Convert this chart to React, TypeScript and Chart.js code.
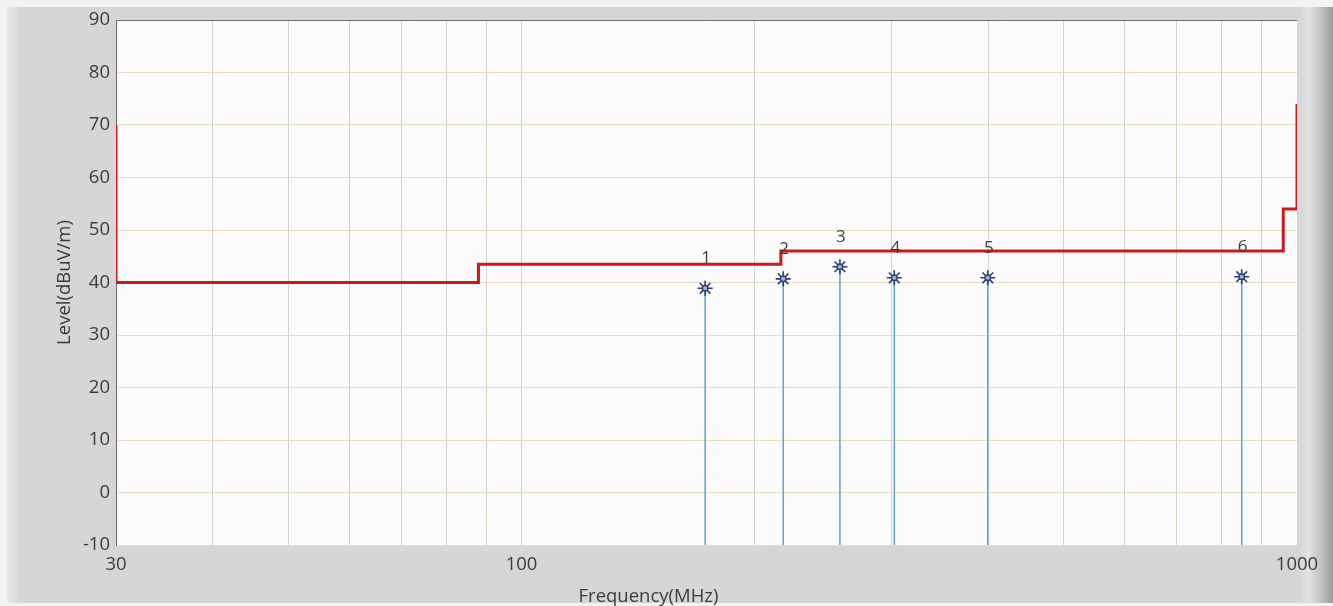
import React, { useEffect, useRef } from "react";
import { Chart, registerables } from "chart.js";

Chart.register(...registerables);

// ---- data ----
const freqGridTicks = [30, 40, 50, 60, 70, 80, 90, 100, 200, 300, 400, 500, 600, 700, 800, 900, 1000];
const freqLabelTicks = [30, 100, 1000];
const levelTicks = [-10, 0, 10, 20, 30, 40, 50, 60, 70, 80, 90];

const limitFreq = [30, 30, 88, 88, 216, 216, 960, 960, 1000, 1000];
const limitLevel = [70, 40, 40, 43.5, 43.5, 46, 46, 54, 54, 74];

const markerNo = ["1", "2", "3", "4", "5", "6"];
const markerFreq = [172.5, 217.5, 257.4, 302.5, 399.3, 848.6];
const markerLevel = [38.9, 40.7, 43.0, 40.9, 40.9, 41.1];

const FONT = "'Open Sans', 'DejaVu Sans', sans-serif";
const TEXT = "#3c3c3c";

export default function App() {
  const canvasRef = useRef<HTMLCanvasElement | null>(null);

  useEffect(() => {
    const canvas = canvasRef.current;
    if (!canvas) return;

    const stemData: { x: number; y: number | null }[] = [];
    markerFreq.forEach((f, i) => {
      stemData.push({ x: f, y: -10 });
      stemData.push({ x: f, y: markerLevel[i] });
      stemData.push({ x: f, y: null });
    });
    const markerData = markerFreq.map((f, i) => ({ x: f, y: markerLevel[i] }));
    const limitData = limitFreq.map((f, i) => ({ x: f, y: limitLevel[i] }));

    const framePlugin = {
      id: "frame",
      beforeDraw(chart: any) {
        const { ctx, chartArea: a } = chart;
        ctx.save();
        ctx.fillStyle = "#fbfbfb";
        ctx.fillRect(a.left, a.top, a.right - a.left, a.bottom - a.top);
        ctx.restore();
      },
      afterDraw(chart: any) {
        const { ctx, chartArea: a } = chart;
        ctx.save();
        ctx.strokeStyle = "#6e6e6e";
        ctx.lineWidth = 1;
        ctx.beginPath();
        ctx.moveTo(a.left, a.top + 0.5);
        ctx.lineTo(a.right, a.top + 0.5);
        ctx.stroke();
        ctx.restore();
      },
    };

    const markerLabelPlugin = {
      id: "markerLabels",
      afterDatasetsDraw(chart: any) {
        const { ctx, scales } = chart;
        ctx.save();
        ctx.font = `17px ${FONT}`;
        ctx.fillStyle = TEXT;
        ctx.textAlign = "center";
        ctx.textBaseline = "middle";
        markerNo.forEach((n, i) => {
          const x = scales.x.getPixelForValue(markerFreq[i]);
          const y = scales.y.getPixelForValue(markerLevel[i]) - 30;
          ctx.fillText(n, x + 1, y);
        });
        ctx.restore();
      },
    };

    const chart = new Chart(canvas, {
      type: "line",
      data: {
        datasets: [
          {
            label: "stems",
            data: stemData as any,
            borderColor: "#5aa6d2",
            borderWidth: 1.5,
            pointRadius: 0,
            spanGaps: false,
            order: 3,
          },
          {
            label: "limit",
            data: limitData,
            borderColor: "#cc1a1a",
            borderWidth: 3,
            pointRadius: 0,
            order: 2,
          },
          {
            label: "markers",
            data: markerData,
            showLine: false,
            pointStyle: "star",
            pointRadius: 7.5,
            borderColor: "#2b3f72",
            borderWidth: 1.6,
            backgroundColor: "#2b3f72",
            order: 1,
          },
          {
            label: "markerCore",
            data: markerData,
            showLine: false,
            pointStyle: "circle",
            pointRadius: 2.8,
            borderColor: "#2b3f72",
            borderWidth: 1.4,
            backgroundColor: "#9fb3d8",
            order: 0,
          },
        ],
      },
      options: {
        animation: false,
        responsive: false,
        maintainAspectRatio: false,
        devicePixelRatio: 1,
        layout: { padding: { left: 0, right: 36, top: 20, bottom: 0 } },
        plugins: {
          legend: { display: false },
          tooltip: { enabled: false },
          title: {
            display: true,
            position: "bottom",
            text: "Frequency(MHz)",
            color: TEXT,
            font: { family: FONT, size: 18.5, weight: "normal", lineHeight: 1 },
            padding: 0,
          },
        },
        scales: {
          x: {
            type: "logarithmic",
            min: 30,
            max: 1000,
            afterBuildTicks: (s: any) => {
              s.ticks = freqGridTicks.map((v) => ({ value: v }));
            },
            afterFit: (s: any) => {
              s.height = 606 - 545 - 18.5;
            },
            ticks: {
              autoSkip: false,
              maxRotation: 0,
              padding: 9,
              color: TEXT,
              font: { family: FONT, size: 18.5 },
              callback: (v: any) => (freqLabelTicks.includes(Number(v)) ? String(v) : ""),
            },
            grid: { color: "#d4d4cc", drawTicks: false, lineWidth: 1 },
            border: { display: false },
          },
          y: {
            type: "linear",
            min: -10,
            max: 90,
            afterBuildTicks: (s: any) => {
              s.ticks = levelTicks.map((v) => ({ value: v }));
            },
            afterFit: (s: any) => {
              s.width = 116;
            },
            ticks: {
              padding: 6,
              color: TEXT,
              font: { family: FONT, size: 18.5 },
            },
            grid: { color: "#e6dcc0", drawTicks: false, lineWidth: 1 },
            border: { display: true, color: "#6e6e6e", width: 1 },
            title: {
              display: true,
              text: "Level(dBuV/m)",
              color: "#3e3a2c",
              font: { family: FONT, size: 18.5, lineHeight: 1.2 },
              padding: { top: 54, bottom: 0 },
            },
          },
        },
      },
      plugins: [framePlugin, markerLabelPlugin],
    } as any);

    return () => chart.destroy();
  }, []);

  return (
    <div
      style={{
        position: "fixed",
        left: 0,
        top: 0,
        width: 1333,
        height: 606,
        background: "#f3f3f3",
        overflow: "hidden",
      }}
    >
      <div
        style={{
          position: "absolute",
          left: 7,
          top: 7,
          width: 1326,
          height: 596,
          background: "linear-gradient(to right, #e8e8e8 0px, #d6d6d6 14px, #d6d6d6 100%)",
        }}
      />
      <div
        style={{
          position: "absolute",
          left: 1299,
          top: 7,
          width: 34,
          height: 596,
          borderTopLeftRadius: 4,
          background: "linear-gradient(to right, #d6d6d6 0%, #e2e2e2 30%, #bdbdbd 70%, #9a9a9a 100%)",
        }}
      />
      <canvas
        ref={canvasRef}
        width={1333}
        height={606}
        style={{ position: "absolute", left: 0, top: 0, width: 1333, height: 606 }}
      />
    </div>
  );
}
